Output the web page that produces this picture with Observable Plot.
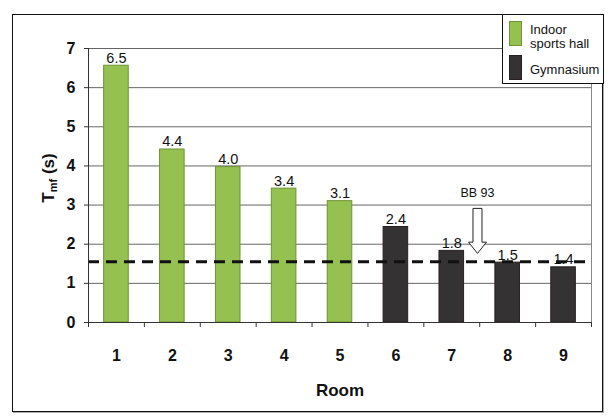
<!DOCTYPE html>
<html><head><meta charset="utf-8">
<script src="https://cdn.jsdelivr.net/npm/d3@7"></script>
<script src="https://cdn.jsdelivr.net/npm/@observablehq/plot@0.6"></script>
<style>
html,body{margin:0;padding:0;background:#fff;}
#wrap{position:relative;width:612px;height:420px;font-family:"Liberation Sans",Arial,sans-serif;background:#fff;}
#wrap svg{position:absolute;left:0;top:0;}
#border{position:absolute;left:12px;top:14px;width:591px;height:398px;border:1.5px solid #111;box-shadow:1px 1px 0 #aaa;box-sizing:border-box;pointer-events:none;}
#legend{position:absolute;left:502px;top:14px;width:102px;height:70px;border:1.5px solid #111;background:#fff;box-sizing:border-box;font-size:13px;color:#111;}
.sw{position:absolute;left:6px;width:13px;height:25px;box-sizing:border-box;}
.lt{position:absolute;left:27px;line-height:14px;white-space:nowrap;}
</style>
</head><body>
<div id="wrap"></div>
<script>
const rooms = [1, 2, 3, 4, 5, 6, 7, 8, 9];
const values = [6.56, 4.42, 3.97, 3.42, 3.1, 2.44, 1.83, 1.53, 1.41];
const labels = ["6.5", "4.4", "4.0", "3.4", "3.1", "2.4", "1.8", "1.5", "1.4"];
const types = ["Indoor sports hall", "Indoor sports hall", "Indoor sports hall", "Indoor sports hall", "Indoor sports hall", "Gymnasium", "Gymnasium", "Gymnasium", "Gymnasium"];
const typeNames = ["Indoor sports hall", "Gymnasium"];
const typeColors = ["#95c150", "#353233"];
const typeStrokes = ["#6f9236", "#2a1f20"];
const yTicks = [0, 1, 2, 3, 4, 5, 6, 7];
const threshold = 1.55;
const thresholdLabel = "BB 93";
const arrowPos = [{x: 7.46, y: 2.34}];
const labelPos = [{x: 7.46, y: 3.3}];

const data = rooms.map((r, i) => ({room: r, value: values[i], label: labels[i], type: types[i]}));
const half = 0.22;

const hollowArrow = {
  draw(ctx, size) {
    const k = Math.sqrt(size / Math.PI);
    ctx.moveTo(-0.2 * k, -k);
    ctx.lineTo(0.2 * k, -k);
    ctx.lineTo(0.2 * k, 0.5 * k);
    ctx.lineTo(0.4 * k, 0.5 * k);
    ctx.lineTo(0, k);
    ctx.lineTo(-0.4 * k, 0.5 * k);
    ctx.lineTo(-0.2 * k, 0.5 * k);
    ctx.closePath();
  }
};

const chart = Plot.plot({
  width: 612,
  height: 420,
  marginTop: 48,
  marginLeft: 88,
  marginRight: 21,
  marginBottom: 98,
  style: {fontFamily: "'Liberation Sans', Arial, sans-serif", background: "transparent", color: "#111"},
  x: {domain: [0.5, rooms.length + 0.5]},
  y: {domain: [0, 7]},
  color: {domain: typeNames, range: typeColors},
  marks: [
    Plot.ruleY(yTicks.filter(d => d > 0), {stroke: "#666", strokeWidth: 1}),
    Plot.ruleX([rooms.length + 0.5], {stroke: "#888", strokeWidth: 1}),
    Plot.rectY(data, {
      x1: d => d.room - half, x2: d => d.room + half, y: "value",
      fill: "type",
      stroke: d => typeStrokes[typeNames.indexOf(d.type)], strokeWidth: 1
    }),
    Plot.ruleY([threshold], {stroke: "#111", strokeWidth: 3, strokeDasharray: "11,7"}),
    Plot.text(data, {x: "room", y: "value", text: "label", lineAnchor: "bottom", dy: -3, fontSize: 14.5, fill: "#111"}),
    Plot.dot(arrowPos, {x: "x", y: "y", r: 22.5, symbol: hollowArrow, fill: "white", stroke: "#222", strokeWidth: 1}),
    Plot.text(labelPos, {x: "x", y: "y", text: () => thresholdLabel, fontSize: 12.5, fill: "#111"}),
    Plot.ruleX([0.5], {stroke: "#333", strokeWidth: 1}),
    Plot.ruleY([0], {stroke: "#333", strokeWidth: 1}),
    Plot.axisY({ticks: yTicks, tickFormat: d3.format("d"), tickSize: 4, tickPadding: 9, fontSize: 16, fontWeight: "bold", label: null, stroke: "#333"}),
    Plot.axisX({ticks: d3.range(0.5, rooms.length + 1, 1), tickSize: 5, tickFormat: () => "", label: null, stroke: "#333"}),
    Plot.axisX({ticks: rooms, tickSize: 0, tickPadding: 27, fontSize: 16, fontWeight: "bold", label: null}),
    Plot.text(["Room"], {frameAnchor: "bottom", dy: 68, text: d => d, fontSize: 17, fontWeight: "bold", lineAnchor: "middle", fill: "#111"})
  ]
});

const svg = d3.select(chart);
const yl = svg.append("text")
  .attr("transform", "translate(54,178) rotate(-90)")
  .attr("text-anchor", "middle")
  .attr("font-weight", "bold")
  .attr("font-size", 17)
  .attr("fill", "#111");
yl.append("tspan").text("T");
yl.append("tspan").attr("font-size", 11).attr("dy", 3).text("mf");
yl.append("tspan").attr("dy", -3).text(" (s)");

const wrap = document.getElementById("wrap");
wrap.appendChild(chart);
const border = document.createElement("div");
border.id = "border";
wrap.appendChild(border);

const legend = document.createElement("div");
legend.id = "legend";
legend.innerHTML = `
  <div class="sw" style="top:6px;background:${typeColors[0]};border:1px solid ${typeStrokes[0]}"></div>
  <div class="lt" style="top:8px">Indoor<br>sports hall</div>
  <div class="sw" style="top:40px;background:${typeColors[1]};border:1px solid ${typeStrokes[1]}"></div>
  <div class="lt" style="top:48px">${typeNames[1]}</div>`;
wrap.appendChild(legend);
</script>
</body></html>
